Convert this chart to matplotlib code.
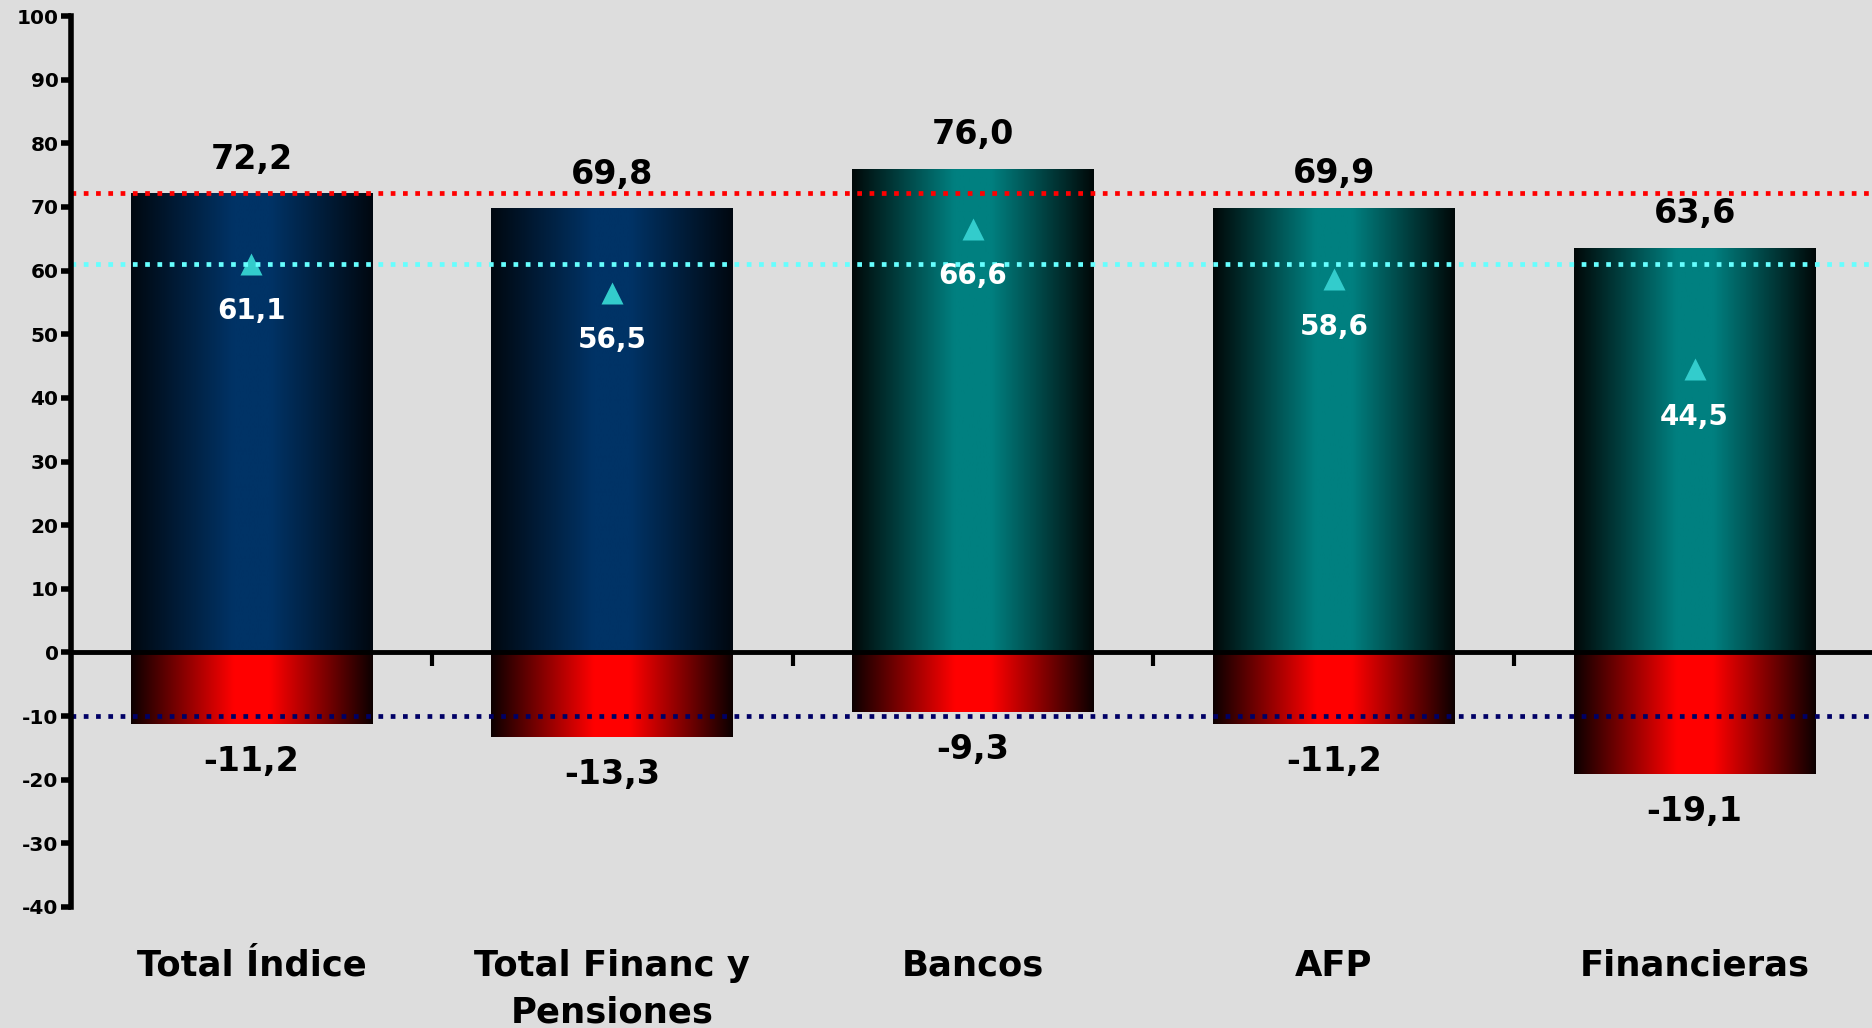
import numpy as np
import matplotlib
matplotlib.use("Agg")
import matplotlib.pyplot as plt
from matplotlib.colors import to_rgb
from matplotlib.transforms import blended_transform_factory

# ---------------- data ----------------
categories = ["Total Índice", "Total Financ y\nPensiones", "Bancos", "AFP", "Financieras"]
max_vals = [72.2, 69.8, 76.0, 69.9, 63.6]
mid_vals = [61.1, 56.5, 66.6, 58.6, 44.5]
min_vals = [-11.2, -13.3, -9.3, -11.2, -19.1]
bar_family = ["blue", "blue", "teal", "teal", "teal"]
ref_levels = [72.2, 61.1, -10.0]
ref_colors = ["#FF0000", "#66FFFF", "#000066"]
y_ticks = list(range(-40, 101, 10))

# ---------------- style ----------------
BG = "#DDDDDD"
grad = {
    "blue": ("#000810", "#003366"),
    "teal": ("#000808", "#008080"),
    "red": ("#0C0000", "#FF0000"),
}
plt.rcParams["font.family"] = ["DejaVu Sans"]
plt.rcParams["font.weight"] = "bold"

W, H = 1872, 1028
fig = plt.figure(figsize=(W / 100, H / 100), dpi=100, facecolor=BG)
ax = fig.add_axes([71 / W, 1 - 907 / H, (1875 - 71) / W, (907 - 16) / H])
ax.set_facecolor(BG)

x = np.arange(len(categories)) + 0.5
bw = 0.67


def fmt(v):
    return f"{v:.1f}".replace(".", ",")


def gradient_fill(patches, fam):
    edge, center = np.array(to_rgb(grad[fam][0])), np.array(to_rgb(grad[fam][1]))
    u = np.linspace(0, 1, 400)
    t = np.clip((1 - np.abs(u - 0.5) / 0.5) / 0.85, 0, 1)
    img = edge[None, :] + (center - edge)[None, :] * t[:, None]
    img = img[None, :, :]
    for p in patches:
        x0, y0 = p.get_x(), p.get_y()
        w, h = p.get_width(), p.get_height()
        im = ax.imshow(img, extent=(x0, x0 + w, min(y0, y0 + h), max(y0, y0 + h)),
                       aspect="auto", zorder=2, interpolation="bilinear")
        im.set_clip_path(p)


pos_bars = ax.bar(x, max_vals, width=bw, color="none", edgecolor="none", zorder=2)
neg_bars = ax.bar(x, min_vals, width=bw, color="none", edgecolor="none", zorder=2)
for p, fam in zip(pos_bars, bar_family):
    gradient_fill([p], fam)
gradient_fill(list(neg_bars), "red")

# markers
ax.plot(x, mid_vals, linestyle="none", marker="^", ms=16, color="#33CCCC",
        mec="none", zorder=3)

# reference dotted lines
for lv, c in zip(ref_levels, ref_colors):
    ax.axhline(lv, color=c, lw=3.4, linestyle=(0, (1, 1.6)), zorder=3.5)

# labels
for xi, vmax, vmid, vmin in zip(x, max_vals, mid_vals, min_vals):
    ax.annotate(fmt(vmax), (xi, vmax), xytext=(0, 17.5), textcoords="offset points",
                ha="center", va="baseline", fontsize=24, fontweight="bold",
                color="black", zorder=5)
    ax.annotate(fmt(vmid), (xi, vmid), xytext=(0, -40), textcoords="offset points",
                ha="center", va="baseline", fontsize=20, fontweight="bold",
                color="white", zorder=5)
    ax.annotate(fmt(vmin), (xi, vmin), xytext=(0, -34), textcoords="offset points",
                ha="center", va="baseline", fontsize=24, fontweight="bold",
                color="black", zorder=5)

trans = blended_transform_factory(ax.transData, ax.transAxes)
for xi, name in zip(x, categories):
    ax.text(xi, -0.047, name, transform=trans, ha="center", va="top",
            fontsize=25.5, fontweight="bold", linespacing=1.45, color="black")

# axes
ax.set_xlim(0, len(categories))
ax.set_ylim(-40, 100)
ax.set_yticks(y_ticks)
ax.set_yticklabels([str(v) for v in y_ticks], fontsize=14.5, fontweight="bold")
ax.set_xticks(np.arange(1, len(categories)))
ax.set_xticklabels([])
ax.tick_params(axis="y", direction="out", length=7, width=4, pad=2, colors="black")
ax.tick_params(axis="x", direction="out", length=10, width=3)
for s in ["top", "right"]:
    ax.spines[s].set_visible(False)
ax.spines["left"].set_linewidth(4)
ax.spines["bottom"].set_position(("data", 0))
ax.spines["bottom"].set_linewidth(3.5)
ax.spines["bottom"].set_zorder(4)
ax.spines["left"].set_zorder(4)

fig.savefig("out.png", dpi=100, facecolor=BG)
